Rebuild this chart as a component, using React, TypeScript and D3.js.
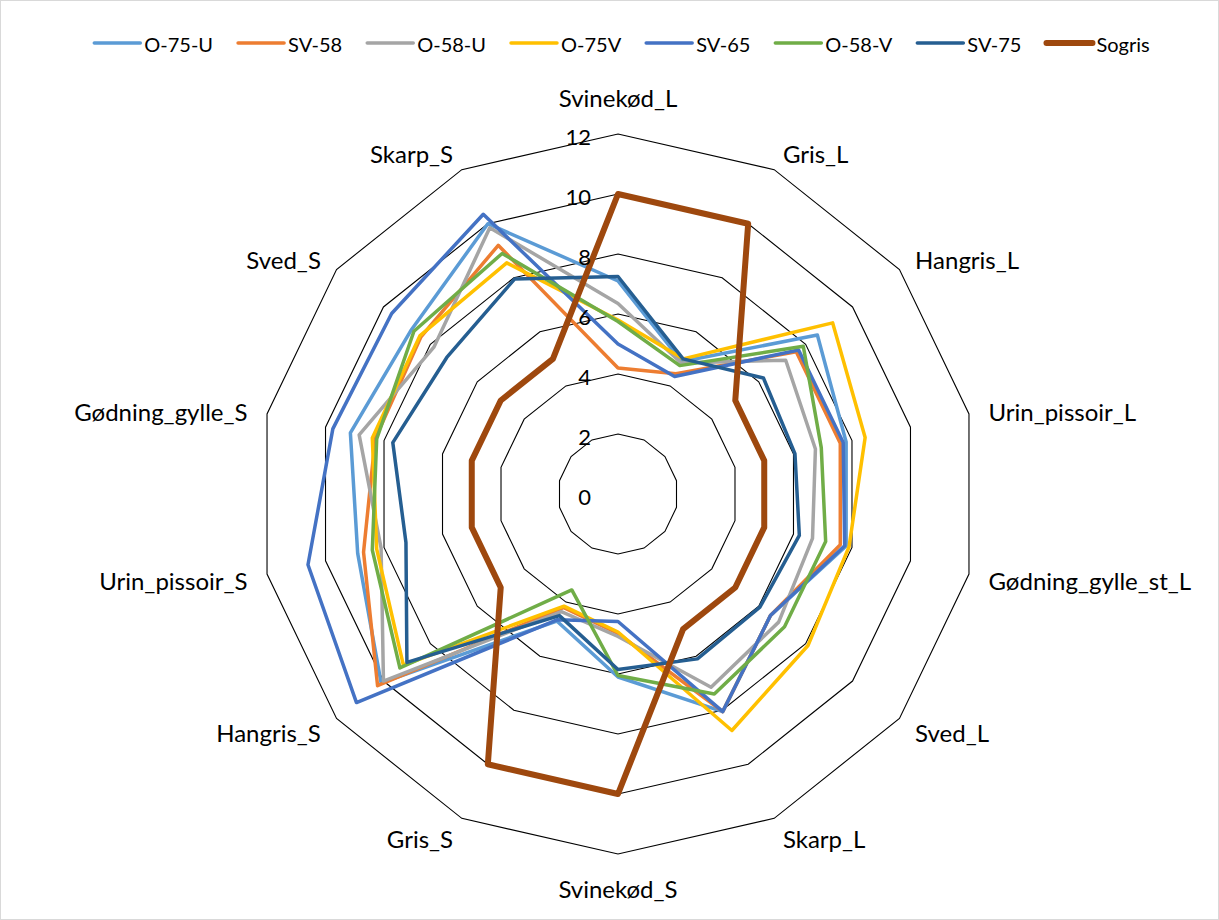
import React, { useEffect, useRef } from "react";
import * as d3 from "d3";

const categories = [
  "Svinekød_L", "Gris_L", "Hangris_L", "Urin_pissoir_L", "Gødning_gylle_st_L",
  "Sved_L", "Skarp_L", "Svinekød_S", "Gris_S", "Hangris_S",
  "Urin_pissoir_S", "Gødning_gylle_S", "Sved_S", "Skarp_S",
];
const tickValues = [0, 2, 4, 6, 8, 10, 12];

const seriesNames = ["O-75-U", "SV-58", "O-58-U", "O-75V", "SV-65", "O-58-V", "SV-75", "Sogris"];
const seriesColors = ["#5B9BD5", "#ED7D31", "#A5A5A5", "#FFC000", "#4472C4", "#70AD47", "#255E91", "#9E480E"];

const o75u = [7.1, 4.9, 8.5, 7.8, 7.8, 6.5, 8.05, 6.1, 4.7, 10.1, 8.9, 9.15, 8.8, 10.0];
const sv58 = [4.2, 4.45, 7.6, 7.6, 7.6, 6.5, 8.05, 4.65, 4.2, 10.25, 8.7, 8.3, 8.4, 9.2];
const o58u = [6.35, 4.85, 7.15, 6.75, 6.65, 6.85, 7.15, 4.75, 4.35, 10.0, 8.1, 8.85, 7.85, 9.85];
const o75v = [5.8, 5.0, 9.15, 8.45, 7.9, 8.1, 8.75, 4.6, 4.15, 9.15, 8.25, 8.4, 8.45, 8.55];
const sv65 = [5.0, 4.35, 7.7, 7.7, 7.75, 6.5, 8.05, 4.25, 4.65, 11.15, 10.6, 9.75, 9.65, 10.35];
const o58v = [5.75, 4.75, 7.9, 6.95, 7.1, 7.1, 7.4, 6.05, 3.55, 9.3, 8.4, 8.25, 8.7, 8.9];
const sv75 = [7.25, 5.0, 6.2, 6.05, 6.2, 6.05, 6.1, 5.85, 4.5, 9.0, 7.25, 7.7, 7.3, 7.95];
const sogris = [10, 10, 5, 5, 5, 5, 5, 10, 10, 5, 5, 5, 5, 5];

const seriesValues = [o75u, sv58, o58u, o75v, sv65, o58v, sv75, sogris];

const W = 1219;
const H = 920;
const FONT = "Lato, 'Noto Sans', sans-serif";

export default function App() {
  const ref = useRef<SVGSVGElement | null>(null);

  useEffect(() => {
    const svg = d3.select(ref.current);
    svg.selectAll("*").remove();

    svg.append("rect")
      .attr("x", 0.5).attr("y", 0.5)
      .attr("width", W - 1).attr("height", H - 1)
      .attr("fill", "#fff").attr("stroke", "#d9d9d9");

    const cx = 618;
    const cy = 494;
    const R = 360;
    const n = categories.length;

    const r = d3.scaleLinear().domain([0, 12]).range([0, R]);
    const angle = d3.scaleLinear().domain([0, n]).range([0, 2 * Math.PI]);

    const g = svg.append("g").attr("transform", `translate(${cx},${cy})`);

    const radial = d3.lineRadial<number>()
      .angle((_, i) => angle(i))
      .radius((v) => r(v))
      .curve(d3.curveLinearClosed);

    // grid polygons
    tickValues.filter((t) => t > 0).forEach((t) => {
      g.append("path")
        .attr("d", radial(categories.map(() => t)))
        .attr("fill", "none")
        .attr("stroke", "#000")
        .attr("stroke-width", 1.1);
    });

    // series
    seriesValues.forEach((vals, si) => {
      g.append("path")
        .attr("d", radial(vals))
        .attr("fill", "none")
        .attr("stroke", seriesColors[si])
        .attr("stroke-width", si === 7 ? 6 : 3.5)
        .attr("stroke-linejoin", "round");
    });

    // tick labels
    tickValues.forEach((t) => {
      g.append("text")
        .attr("x", -27)
        .attr("y", -r(t) + 2)
        .attr("text-anchor", "end")
        .attr("dominant-baseline", "central")
        .attr("font-family", FONT)
        .attr("font-size", 22)
        .attr("fill", "#000")
        .text(String(t));
    });

    // category labels
    const LR = 380;
    categories.forEach((c, i) => {
      const a = angle(i);
      const s = Math.sin(a);
      const co = Math.cos(a);
      const x = LR * s;
      const y = -LR * co;
      let anchor = "middle";
      let baseline = "central";
      const vertical = Math.abs(s) < 1e-6;
      if (vertical) {
        baseline = co > 0 ? "text-after-edge" : "text-before-edge";
      } else {
        anchor = s > 0 ? "start" : "end";
      }
      g.append("text")
        .attr("x", x)
        .attr("y", y + (vertical ? (co > 0 ? -2 : 0) : 2))
        .attr("text-anchor", anchor)
        .attr("dominant-baseline", baseline)
        .attr("font-family", FONT)
        .attr("font-size", 24)
        .attr("fill", "#000")
        .text(c);
    });

    // legend
    const lg = svg.append("g").attr("transform", "translate(0,43)");
    const items: { x: number; w: number }[] = [];
    let lx = 0;
    const texts = seriesNames.map((name, si) => {
      const line = lg.append("line")
        .attr("y1", 0).attr("y2", 0)
        .attr("stroke", seriesColors[si])
        .attr("stroke-width", si === 7 ? 6 : 3.5)
        .attr("stroke-linecap", "round");
      const t = lg.append("text")
        .attr("y", 1)
        .attr("dominant-baseline", "central")
        .attr("font-family", FONT)
        .attr("font-size", 20)
        .attr("fill", "#000")
        .text(name);
      const tw = (t.node() as SVGTextElement).getComputedTextLength();
      items.push({ x: lx, w: tw });
      lx = lx + 50 + tw + 25;
      return { line, t };
    });
    const total = lx - 25;
    const start = 622 - total / 2;
    texts.forEach(({ line, t }, i) => {
      const x0 = start + items[i].x;
      line.attr("x1", x0).attr("x2", x0 + 46);
      t.attr("x", x0 + 50);
    });
  }, []);

  return (
    <svg
      ref={ref}
      width={W}
      height={H}
      style={{ position: "absolute", left: 0, top: 0, background: "#fff" }}
    />
  );
}
